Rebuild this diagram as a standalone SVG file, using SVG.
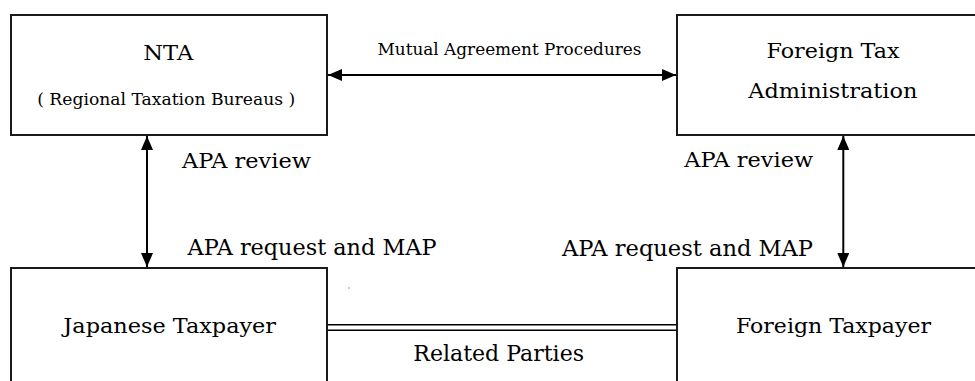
<svg xmlns="http://www.w3.org/2000/svg" width="975" height="381" viewBox="0 0 975 381">
  <style>
    .box { fill: #ffffff; stroke: #1a1a1a; stroke-width: 2; }
    .lbl { font-family: "DejaVu Serif", "Liberation Serif", serif; fill: #000000; text-anchor: middle; }
    .conn { stroke: #000000; stroke-width: 2; fill: none; }
    .rel { stroke: #000000; stroke-width: 1.6; fill: none; }
  </style>
  <defs>
    <marker id="arrow" viewBox="0 0 14 12" refX="14" refY="6" markerWidth="14" markerHeight="12" markerUnits="userSpaceOnUse" orient="auto-start-reverse">
      <path d="M0,0 L14,6 L0,12 Z" fill="#000000"/>
    </marker>
  </defs>
  <rect x="0" y="0" width="975" height="381" fill="#ffffff"/>

  <g id="nta">
    <rect class="box" x="11" y="15" width="316" height="120"/>
    <text class="lbl" x="168.3" y="60" font-size="20" textLength="50" lengthAdjust="spacingAndGlyphs">NTA</text>
    <text class="lbl" x="166.2" y="105" font-size="16.5" textLength="258" lengthAdjust="spacingAndGlyphs">( Regional Taxation Bureaus )</text>
  </g>

  <g id="foreign-tax-administration">
    <rect class="box" x="677" y="15" width="320" height="120"/>
    <text class="lbl" x="833" y="57.7" font-size="20" textLength="133" lengthAdjust="spacingAndGlyphs">Foreign Tax</text>
    <text class="lbl" x="832.8" y="98.3" font-size="20" textLength="169" lengthAdjust="spacingAndGlyphs">Administration</text>
  </g>

  <g id="japanese-taxpayer">
    <rect class="box" x="11" y="268" width="316" height="130"/>
    <text class="lbl" x="169.7" y="333.3" font-size="21" textLength="212.7" lengthAdjust="spacingAndGlyphs">Japanese Taxpayer</text>
  </g>

  <g id="foreign-taxpayer">
    <rect class="box" x="677" y="268" width="320" height="130"/>
    <text class="lbl" x="833.5" y="333.3" font-size="21" textLength="195" lengthAdjust="spacingAndGlyphs">Foreign Taxpayer</text>
  </g>

  <g id="connectors">
    <line class="conn" x1="328" y1="75" x2="676" y2="75" marker-start="url(#arrow)" marker-end="url(#arrow)"/>
    <line class="conn" x1="147" y1="136" x2="147" y2="267" marker-start="url(#arrow)" marker-end="url(#arrow)"/>
    <line class="conn" x1="843.3" y1="136" x2="843.3" y2="267" marker-start="url(#arrow)" marker-end="url(#arrow)"/>
    <line class="rel" x1="328" y1="324.8" x2="676" y2="324.8"/>
    <line class="rel" x1="328" y1="330.2" x2="676" y2="330.2"/>
  </g>

  <g id="connector-labels">
    <text class="lbl" x="509.5" y="55" font-size="17" textLength="264" lengthAdjust="spacingAndGlyphs">Mutual Agreement Procedures</text>
    <text class="lbl" x="246.5" y="168" font-size="21" textLength="129" lengthAdjust="spacingAndGlyphs">APA review</text>
    <text class="lbl" x="748.7" y="166.7" font-size="21" textLength="129" lengthAdjust="spacingAndGlyphs">APA review</text>
    <text class="lbl" x="312" y="255" font-size="22" textLength="249" lengthAdjust="spacingAndGlyphs">APA request and MAP</text>
    <text class="lbl" x="687.5" y="256" font-size="22" textLength="251" lengthAdjust="spacingAndGlyphs">APA request and MAP</text>
    <text class="lbl" x="498.7" y="360.7" font-size="21.5" textLength="170.7" lengthAdjust="spacingAndGlyphs">Related Parties</text>
  </g>
  <rect x="348.5" y="287.5" width="1.2" height="1" fill="#555555"/>
</svg>
